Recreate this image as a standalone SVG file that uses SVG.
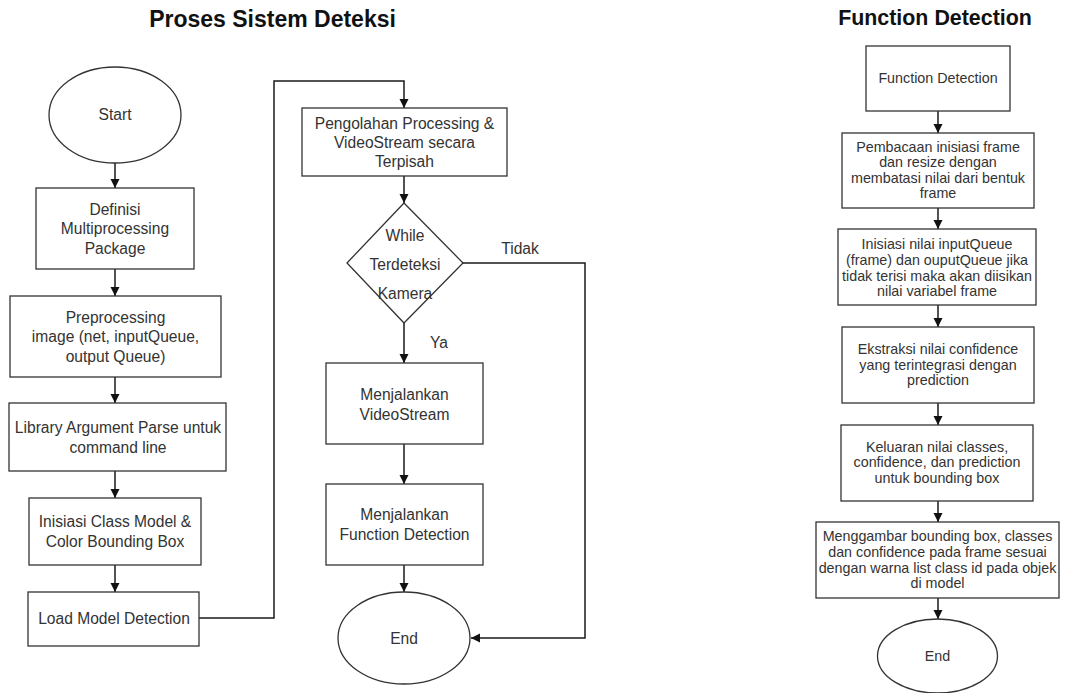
<svg xmlns="http://www.w3.org/2000/svg" width="1081" height="693" viewBox="0 0 1081 693">
  <defs>
    <marker id="arrow" markerUnits="userSpaceOnUse" markerWidth="10" markerHeight="10" refX="9" refY="5" orient="auto">
      <path d="M0,0.5 L9,5 L0,9.5 z" fill="#111"/>
    </marker>
    <style>
      .shape { fill: #fff; stroke: #333; stroke-width: 1.3; }
      .edge { fill: none; stroke: #1a1a1a; stroke-width: 1.5; marker-end: url(#arrow); }
      .lbl { font-family: "Liberation Sans", Arial, sans-serif; font-size: 15.6px; fill: #333; text-anchor: middle; }
      .lbl-s { font-family: "Liberation Sans", Arial, sans-serif; font-size: 14.3px; fill: #333; text-anchor: middle; }
      .title { font-family: "Liberation Sans", Arial, sans-serif; font-weight: bold; fill: #111; text-anchor: middle; }
    </style>
  </defs>
  <rect width="1081" height="693" fill="#fff"/>

  <!-- headings -->
  <text class="title" x="272.5" y="27" font-size="23">Proses Sistem Deteksi</text>
  <text class="title" x="935" y="25" font-size="21.4">Function Detection</text>

  <!-- connectors -->
  <g id="connectors">
    <line class="edge" x1="115" y1="163" x2="115" y2="188"/>
    <line class="edge" x1="115" y1="269" x2="115" y2="296"/>
    <line class="edge" x1="115" y1="377" x2="115" y2="403"/>
    <line class="edge" x1="115" y1="471" x2="115" y2="498"/>
    <line class="edge" x1="115" y1="565" x2="115" y2="592"/>
    <path class="edge" d="M199,618 H274 V81 H404 V108"/>
    <line class="edge" x1="404" y1="176" x2="404" y2="203"/>
    <line class="edge" x1="404" y1="323" x2="404" y2="363"/>
    <line class="edge" x1="404" y1="444" x2="404" y2="484"/>
    <line class="edge" x1="404" y1="565" x2="404" y2="592"/>
    <path class="edge" d="M463,263 H585 V638 H471"/>
    <text class="lbl" x="520" y="254">Tidak</text>
    <text class="lbl" x="439" y="348">Ya</text>

    <line class="edge" x1="938" y1="111" x2="938" y2="133"/>
    <line class="edge" x1="938" y1="208" x2="938" y2="229"/>
    <line class="edge" x1="938" y1="305" x2="938" y2="327"/>
    <line class="edge" x1="938" y1="403" x2="938" y2="425"/>
    <line class="edge" x1="938" y1="501" x2="938" y2="522"/>
    <line class="edge" x1="938" y1="598" x2="938" y2="619"/>
  </g>

  <!-- main process -->
  <g id="start">
    <ellipse class="shape" cx="115" cy="115" rx="66" ry="48"/>
    <text class="lbl" x="115" y="120">Start</text>
  </g>
  <g id="definisi">
    <rect class="shape" x="36" y="188" width="158" height="81"/>
    <text class="lbl" x="115" y="214.5">Definisi</text>
    <text class="lbl" x="115" y="234">Multiprocessing</text>
    <text class="lbl" x="115" y="253.5">Package</text>
  </g>
  <g id="preprocessing">
    <rect class="shape" x="10" y="296" width="211" height="81"/>
    <text class="lbl" x="115.5" y="323">Preprocessing</text>
    <text class="lbl" x="115.5" y="342">image (net, inputQueue,</text>
    <text class="lbl" x="115.5" y="361.5">output Queue)</text>
  </g>
  <g id="argparse">
    <rect class="shape" x="9" y="403" width="217" height="68"/>
    <text class="lbl" x="118" y="433">Library Argument Parse untuk</text>
    <text class="lbl" x="118" y="452.5">command line</text>
  </g>
  <g id="class-model">
    <rect class="shape" x="29" y="498" width="172" height="67"/>
    <text class="lbl" x="115" y="526.5">Inisiasi Class Model &amp;</text>
    <text class="lbl" x="115" y="546.5">Color Bounding Box</text>
  </g>
  <g id="load-model">
    <rect class="shape" x="28" y="592" width="171" height="54"/>
    <text class="lbl" x="114" y="623.5">Load Model Detection</text>
  </g>
  <g id="pengolahan">
    <rect class="shape" x="302" y="108" width="205" height="68"/>
    <text class="lbl" x="404.5" y="128.5">Pengolahan Processing &amp;</text>
    <text class="lbl" x="404.5" y="147.5">VideoStream secara</text>
    <text class="lbl" x="404.5" y="166.5">Terpisah</text>
  </g>
  <g id="kamera">
    <polygon class="shape" points="404,203 463,263 404,323 347,263"/>
    <text class="lbl" x="405" y="240.5">While</text>
    <text class="lbl" x="405" y="270">Terdeteksi</text>
    <text class="lbl" x="405" y="298.5">Kamera</text>
  </g>
  <g id="videostream">
    <rect class="shape" x="326" y="363" width="157" height="81"/>
    <text class="lbl" x="404.5" y="399.5">Menjalankan</text>
    <text class="lbl" x="404.5" y="419.5">VideoStream</text>
  </g>
  <g id="run-detection">
    <rect class="shape" x="326" y="484" width="157" height="81"/>
    <text class="lbl" x="404.5" y="520">Menjalankan</text>
    <text class="lbl" x="404.5" y="540">Function Detection</text>
  </g>
  <g id="end">
    <ellipse class="shape" cx="404" cy="638" rx="66" ry="46"/>
    <text class="lbl" x="404" y="644">End</text>
  </g>

  <!-- detection function -->
  <g id="fd-start">
    <rect class="shape" x="866" y="46" width="144" height="65"/>
    <text class="lbl-s" x="938" y="83">Function Detection</text>
  </g>
  <g id="fd-read">
    <rect class="shape" x="842" y="133" width="192" height="75"/>
    <text class="lbl-s" x="938" y="151.7">Pembacaan inisiasi frame</text>
    <text class="lbl-s" x="938" y="167">dan resize dengan</text>
    <text class="lbl-s" x="938" y="182.7">membatasi nilai dari bentuk</text>
    <text class="lbl-s" x="938" y="198.3">frame</text>
  </g>
  <g id="fd-queue">
    <rect class="shape" x="838" y="229" width="198" height="76"/>
    <text class="lbl-s" x="937" y="249.3">Inisiasi nilai inputQueue</text>
    <text class="lbl-s" x="937" y="264.5">(frame) dan ouputQueue jika</text>
    <text class="lbl-s" x="937" y="280.7">tidak terisi maka akan diisikan</text>
    <text class="lbl-s" x="937" y="296">nilai variabel frame</text>
  </g>
  <g id="fd-confidence">
    <rect class="shape" x="842" y="327" width="192" height="76"/>
    <text class="lbl-s" x="938" y="354">Ekstraksi nilai confidence</text>
    <text class="lbl-s" x="938" y="369.5">yang terintegrasi dengan</text>
    <text class="lbl-s" x="938" y="385">prediction</text>
  </g>
  <g id="fd-output">
    <rect class="shape" x="841" y="425" width="192" height="76"/>
    <text class="lbl-s" x="937" y="451.7">Keluaran nilai classes,</text>
    <text class="lbl-s" x="937" y="467">confidence, dan prediction</text>
    <text class="lbl-s" x="937" y="482.7">untuk bounding box</text>
  </g>
  <g id="fd-draw">
    <rect class="shape" x="816" y="522" width="243" height="76"/>
    <text class="lbl-s" x="937.5" y="541">Menggambar bounding box, classes</text>
    <text class="lbl-s" x="937.5" y="556.7">dan confidence pada frame sesuai</text>
    <text class="lbl-s" x="937.5" y="572.7">dengan warna list class id pada objek</text>
    <text class="lbl-s" x="937.5" y="588">di model</text>
  </g>
  <g id="fd-end">
    <ellipse class="shape" cx="937.5" cy="656" rx="60" ry="37"/>
    <text class="lbl-s" x="937.5" y="661">End</text>
  </g>
</svg>
